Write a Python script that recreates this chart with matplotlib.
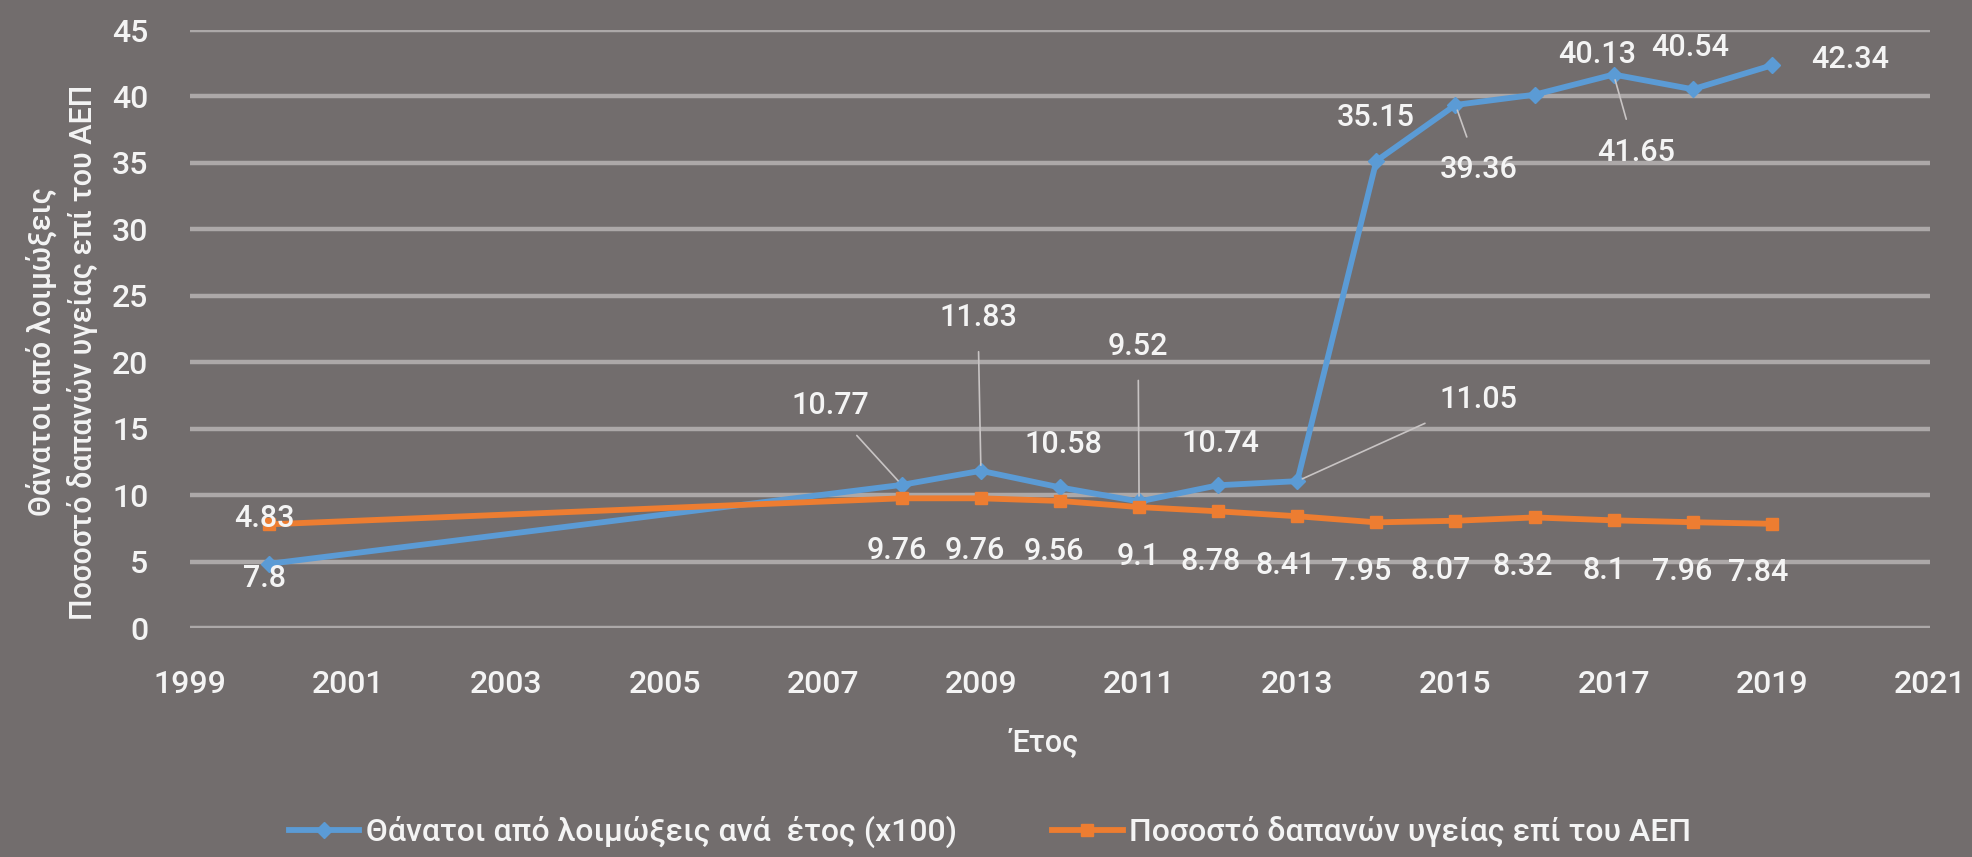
import matplotlib
matplotlib.use("Agg")
import matplotlib.pyplot as plt
from matplotlib.lines import Line2D

plt.rcParams['font.family'] = ['Roboto', 'DejaVu Sans']
plt.rcParams['font.weight'] = 'medium'

# Data (years with values)
years = [2000, 2008, 2009, 2010, 2011, 2012, 2013, 2014, 2015, 2016, 2017, 2018, 2019]
deaths = [4.83, 10.77, 11.83, 10.58, 9.52, 10.74, 11.05, 35.15, 39.36, 40.13, 41.65, 40.54, 42.34]
health_gdp = [7.8, 9.76, 9.76, 9.56, 9.1, 8.78, 8.41, 7.95, 8.07, 8.32, 8.1, 7.96, 7.84]

deaths_name = 'Θάνατοι από λοιμώξεις ανά  έτος (x100)'
health_name = 'Ποσοστό δαπανών υγείας επί του ΑΕΠ'
ylabel = 'Θάνατοι από λοιμώξεις\nΠοσοστό δαπανών υγείας επί του ΑΕΠ'
xlabel = 'Έτος'

# label offsets in pixels (dx, dy), and whether a leader line is drawn
deaths_off = [(-5, 45), (-72, 79), (-3, 153), (3, 43), (-1, 155), (2, 42), (181, 82),
              (-1, 43), (23, -65), (63, 40), (22, -78), (-3, 42), (78, 6)]
deaths_leader = [False, True, True, False, True, False, True, False, True, False, True, False, False]
health_off = [(-5, -54), (-5, -52), (-6, -52), (-6, -51), (-1, -49), (-8, -50), (-12, -49),
              (-15, -49), (-15, -50), (-12, -49), (-10, -50), (-11, -49), (-14, -49)]

bg = '#726d6d'
grid = '#aca8a8'
txt = '#f4f4f4'
blue = '#5b9bd5'
orange = '#ed7d31'

fig = plt.figure(figsize=(19.72, 8.57), dpi=100, facecolor=bg)
ax = fig.add_axes([190 / 1972, 1 - 628 / 857, 1740 / 1972, 598 / 857])
ax.set_facecolor(bg)

ax.plot(years, deaths, color=blue, lw=4.2, marker='D', ms=8, zorder=3)
ax.plot(years, health_gdp, color=orange, lw=4.2, marker='s', ms=8, zorder=3)

for x, y, off, lead in zip(years, deaths, deaths_off, deaths_leader):
    props = dict(arrowstyle='-', color='#c8c4c4', lw=1.2, shrinkA=12, shrinkB=4) if lead else None
    ax.annotate(f'{y:g}', (x, y), xytext=off, textcoords='offset pixels',
                ha='center', va='center', color=txt, fontsize=22, arrowprops=props, zorder=4)
for x, y, off in zip(years, health_gdp, health_off):
    ax.annotate(f'{y:g}', (x, y), xytext=off, textcoords='offset pixels',
                ha='center', va='center', color=txt, fontsize=22, zorder=4)

ax.set_xlim(1999, 2021)
ax.set_ylim(0, 45)
ax.set_xticks(range(1999, 2022, 2))
ax.set_yticks(range(0, 46, 5))
ax.yaxis.grid(True, color=grid, lw=3.2)
ax.set_axisbelow(True)
for s in ax.spines.values():
    s.set_visible(False)
ax.tick_params(length=0, colors=txt, labelsize=23)
ax.tick_params(axis='x', pad=30)
ax.tick_params(axis='y', pad=30)

fig.text(62 / 1972, 1 - 352 / 857, ylabel, rotation=90, ha='center', va='center',
         color=txt, fontsize=22, linespacing=1.4)
fig.text(1045 / 1972, 1 - 742 / 857, xlabel, ha='center', va='center', color=txt, fontsize=22)

handles = [Line2D([], [], color=blue, lw=4.2, marker='D', ms=8),
           Line2D([], [], color=orange, lw=4.2, marker='s', ms=8)]
leg = fig.legend(handles, [deaths_name, health_name], loc='center', ncol=2,
                 bbox_to_anchor=(990 / 1972, 1 - 832 / 857), frameon=False,
                 fontsize=23, handlelength=2.2, handletextpad=0.2, columnspacing=3)
for t in leg.get_texts():
    t.set_color(txt)

fig.savefig('out.png', dpi=100, facecolor=bg)
